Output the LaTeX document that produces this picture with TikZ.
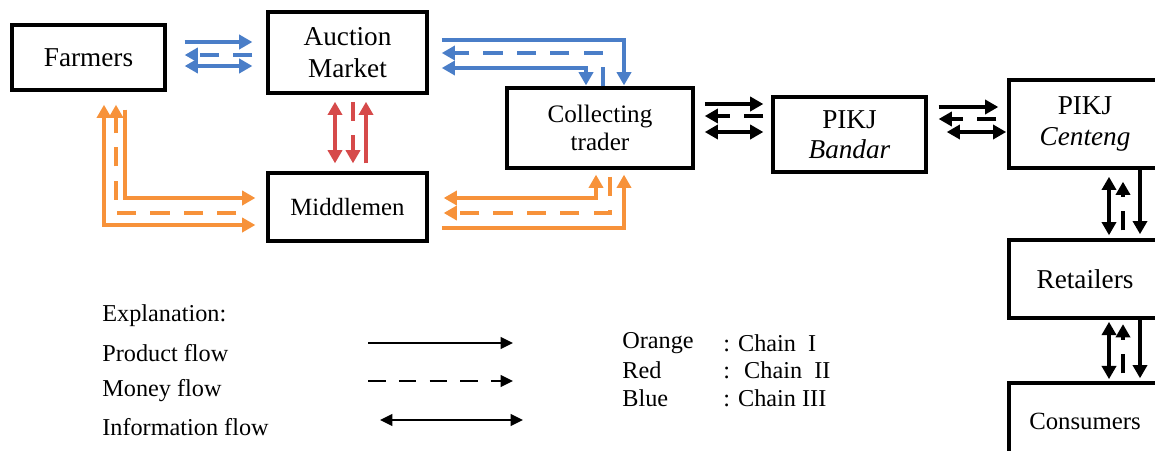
\documentclass[tikz,border=0pt]{standalone}
\usepackage{fontspec}
\setmainfont{Liberation Serif}
\usetikzlibrary{arrows.meta}
\definecolor{chainI}{HTML}{F7923A}
\definecolor{chainII}{HTML}{D64A4A}
\definecolor{chainIII}{HTML}{4A7EC8}
\tikzset{
  >={Triangle[length=7.5pt,width=8pt]},
  box/.style={draw, line width=2pt, inner sep=0pt, align=center,
              font=\fontsize{15.5pt}{18pt}\selectfont},
  prod/.style={line width=2.2pt, ->},
  money/.style={line width=2.2pt, ->, dash pattern=on 11pt off 8pt},
  info/.style={line width=2.2pt, <->},
  sa/.style={shorten <=#1},
  sb/.style={shorten >=#1},
  lbl/.style={inner sep=0pt, anchor=west, font=\fontsize{13.8pt}{16pt}\selectfont},
  legline/.style={line width=1.3pt, >={Triangle[length=7pt,width=6.5pt]}}
}
\begin{document}
\begin{tikzpicture}[x=0.02cm, y=-0.02cm]
\clip (0,0) rectangle (1155,450);
\fill[white] (0,0) rectangle (1155,450);

% boxes
\node[box, minimum width=3.06cm, minimum height=1.30cm] (farm) at (88.5,57.5) {Farmers};
\node[box, minimum width=3.18cm, minimum height=1.62cm] (auct) at (347.5,52.5) {Auction\\Market};
\node[box, minimum width=3.18cm, minimum height=1.36cm,
      font=\fontsize{14.1pt}{17pt}\selectfont] (midd) at (347.5,207) {Middlemen};
\node[box, minimum width=3.72cm, minimum height=1.60cm,
      font=\fontsize{14.3pt}{16pt}\selectfont] (coll) at (600,128) {Collecting\\trader};
\node[box, minimum width=3.06cm, minimum height=1.50cm,
      font=\fontsize{15.5pt}{17pt}\selectfont] (band) at (849.5,134.5) {PIKJ\\\textit{Bandar}};
\node[box, minimum width=3.04cm, minimum height=1.76cm,
      font=\fontsize{15.5pt}{17.5pt}\selectfont] (cent) at (1085,124) {PIKJ\\\textit{Centeng}};
\node[box, minimum width=3.04cm, minimum height=1.56cm] (reta) at (1085,279) {Retailers};
\node[box, minimum width=3.04cm, minimum height=1.54cm,
      font=\fontsize{14.1pt}{17pt}\selectfont] (cons) at (1085,421.5) {Consumers};

% chain III (blue): farmers - auction market
\draw[prod, chainIII, sa=10.2pt, sb=7.9pt] (farm.east |- 0,42) -- (auct.west |- 0,42);
\draw[money, chainIII, sa=7.9pt, sb=10.2pt] (auct.west |- 0,55) -- (farm.east |- 0,55);
\draw[info, chainIII, sa=10.2pt, sb=7.9pt] (farm.east |- 0,66) -- (auct.west |- 0,66);

% chain III (blue): auction market - collecting trader
\draw[prod, chainIII, sa=7.4pt, sb=0.5pt] (auct.east |- 0,40) -| (coll.north -| 624,0);
\draw[money, chainIII, sb=7.4pt] (coll.north -| 603,0) |- (auct.east |- 0,53);
\draw[info, chainIII, sa=7.4pt, sb=0.5pt] (auct.east |- 0,68) -| (coll.north -| 586,0);

% chain II (red): auction market - middlemen
\draw[info, chainII, sa=4pt, sb=4.5pt] (auct.south -| 335,0) -- (midd.north -| 335,0);
\draw[money, chainII, sa=4pt, sb=4.5pt] (auct.south -| 353,0) -- (midd.north -| 353,0);
\draw[prod, chainII, sa=4.5pt, sb=4pt] (midd.north -| 366,0) -- (auct.south -| 366,0);

% chain I (orange): farmers - middlemen
\draw[info, chainI, sa=7.4pt, sb=6.2pt] (farm.south -| 104,0) |- (midd.west |- 0,225);
\draw[money, chainI, sa=17pt, sb=7.4pt] (midd.west |- 0,213) -| (farm.south -| 116,0);
\draw[prod, chainI, sa=10.2pt, sb=6.2pt] (farm.south -| 125,0) |- (midd.west |- 0,198);

% chain I (orange): middlemen - collecting trader
\draw[info, chainI, sa=8.5pt, sb=2.8pt] (midd.east |- 0,198) -| (coll.south -| 596,0);
\draw[money, chainI, sa=4pt, sb=8.5pt] (coll.south -| 610,0) |- (midd.east |- 0,213);
\draw[prod, chainI, sa=7.4pt, sb=2.8pt] (midd.east |- 0,228) -| (coll.south -| 624,0);

% collecting trader - PIKJ Bandar
\draw[prod, sa=5.7pt, sb=4.5pt] (coll.east |- 0,104) -- (band.west |- 0,104);
\draw[money, sa=4.5pt, sb=5.7pt] (band.west |- 0,116) -- (coll.east |- 0,116);
\draw[info, sa=5.7pt, sb=4.5pt] (coll.east |- 0,132) -- (band.west |- 0,132);

% PIKJ Bandar - PIKJ Centeng
\draw[prod, sa=6.2pt, sb=5.1pt] (band.east |- 0,107) -- (cent.west |- 0,107);
\draw[money, sa=6.2pt, sb=6.2pt] (cent.west |- 0,119) -- (band.east |- 0,119);
\draw[info, sa=10.8pt, sb=0.6pt] (band.east |- 0,132) -- (cent.west |- 0,132);

% PIKJ Centeng - retailers
\draw[info, sa=4pt, sb=1.7pt] (cent.south -| 1109,0) -- (reta.north -| 1109,0);
\draw[money, sa=4.5pt, sb=6.8pt] (reta.north -| 1123,0) -- (cent.south -| 1123,0);
\draw[prod, sb=2.3pt] (cent.south -| 1140,0) -- (reta.north -| 1140,0);

% retailers - consumers
\draw[info, sa=1.2pt, sb=1.2pt] (reta.south -| 1109,0) -- (cons.north -| 1109,0);
\draw[money, sa=4.5pt, sb=2.5pt] (cons.north -| 1123,0) -- (reta.south -| 1123,0);
\draw[prod, sb=1.7pt] (reta.south -| 1140,0) -- (cons.north -| 1140,0);

% legend
\node[lbl] (expl) at (102,316) {Explanation:};
\node[lbl] (lprod) at (102,353) {Product flow};
\node[lbl] (lmoney) at (102,391) {Money flow};
\node[lbl] (linfo) at (102,427) {Information flow};
\coordinate (ps) at (368,343); \coordinate (pe) at (513,343);
\coordinate (ms) at (368,381); \coordinate (me) at (513,381);
\coordinate (is) at (380,420); \coordinate (ie) at (523,420);
\draw[legline, ->] (ps) -- (pe);
\draw[legline, ->, dash pattern=on 10pt off 7.5pt] (ms) -- (me);
\draw[legline, <->] (is) -- (ie);

\node[lbl] (kor) at (622,343) {Orange};
\node[lbl] (kre) at (622,370) {Red};
\node[lbl] (kbl) at (622,398) {Blue};
\node[lbl] (cor) at (723,343) {: Chain~ I};
\node[lbl] (cre) at (723,370) {:~ Chain~ II};
\node[lbl] (cbl) at (723,398) {: Chain III};
\end{tikzpicture}
\end{document}
